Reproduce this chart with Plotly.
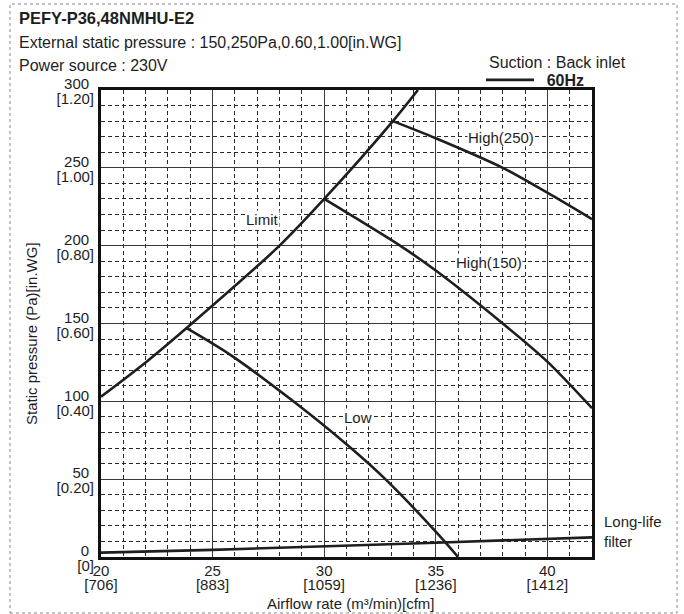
import plotly.graph_objects as go

# Fan performance data (airflow in m3/min, static pressure in Pa)
limit_airflow = [20, 22, 24.07, 28, 30, 33.08, 34.2]
limit_pressure = [103, 125, 150, 200, 230, 280, 300]

high250_airflow = [33.08, 35, 38, 40, 42]
high250_pressure = [280, 269, 250, 234, 217]

high150_airflow = [30, 33.4, 35, 38, 40, 42]
high150_pressure = [230, 200, 184, 150, 125.5, 95.6]

low_airflow = [23.84, 25.78, 28.62, 31.17, 32.74, 35, 36]
low_pressure = [147, 130, 100, 70.3, 50, 16.3, 0]

filter_airflow = [20, 25, 35, 42]
filter_pressure = [2.8, 4.6, 9.2, 12.6]

# Axis ticks: SI value with imperial equivalent underneath
x_ticks = [20, 25, 30, 35, 40]
x_ticktext_si = ["20", "25", "30", "35", "40"]
x_ticktext_imp = ["[706]", "[883]", "[1059]", "[1236]", "[1412]"]
y_ticks = [0, 50, 100, 150, 200, 250, 300]
y_ticktext_si = ["0", "50", "100", "150", "200", "250", "300"]
y_ticktext_imp = ["[0]", "[0.20]", "[0.40]", "[0.60]", "[0.80]", "[1.00]", "[1.20]"]

# Curve labels: (text, airflow, pressure)
curve_labels = [
    ("Limit", 27.24, 216.5),
    ("High(250)", 37.91, 269.8),
    ("High(150)", 37.40, 188.9),
    ("Low", 31.52, 89.9),
]

FONT = "Liberation Sans, Arial, Helvetica, sans-serif"
INK = "#1e1e1e"
LINE_W = 2.6

fig = go.Figure()

curves = [
    (limit_airflow, limit_pressure),
    (high250_airflow, high250_pressure),
    (high150_airflow, high150_pressure),
    (low_airflow, low_pressure),
    (filter_airflow, filter_pressure),
]
for i, (xs, ys) in enumerate(curves):
    fig.add_trace(go.Scatter(
        x=xs, y=ys, mode="lines",
        line=dict(color=INK, width=LINE_W, shape="spline", smoothing=0.8),
        name="\u00a0\u2009<b>60Hz</b>", showlegend=(i == 0), hoverinfo="skip",
    ))

# Empty trace that carries the secondary (imperial) tick axes
fig.add_trace(go.Scatter(x=[], y=[], xaxis="x2", yaxis="y2", showlegend=False,
                         hoverinfo="skip"))

for text, xv, yv in curve_labels:
    fig.add_annotation(x=xv, y=yv, xref="x", yref="y", text=text, showarrow=False,
                       font=dict(family=FONT, size=15, color=INK),
                       bgcolor="white", borderpad=0)

# Filter label sits outside the plot on the right
fig.add_annotation(x=1.02, y=16.7, xref="paper", yref="y", text="Long-life<br>filter",
                   showarrow=False, xanchor="left", align="left",
                   font=dict(family=FONT, size=15, color=INK))

# Plot area in pixels
L, R, T, B = 101, 592, 90, 557
PW, PH = R - L, B - T


def px(x):
    return (x - L) / PW


def py(y):
    return (B - y) / PH


header = [
    ("<b>PEFY-P36,48NMHU-E2</b>", 18, 16.5),
    ("External static pressure : 150,250Pa,0.60,1.00[in.WG]", 43, 16),
    ("Power source : 230V", 65, 16),
]
for text, yy, size in header:
    fig.add_annotation(x=px(17), y=py(yy), xref="paper", yref="paper", text=text,
                       showarrow=False, xanchor="left", yanchor="middle",
                       font=dict(family=FONT, size=size, color=INK))

fig.add_annotation(x=px(487), y=py(62), xref="paper", yref="paper",
                   text="Suction : Back inlet", showarrow=False,
                   xanchor="left", yanchor="middle",
                   font=dict(family=FONT, size=16, color=INK))

# Axis titles
fig.add_annotation(x=px(351), y=py(603), xref="paper", yref="paper",
                   text="Airflow rate (m³/min)[cfm]", showarrow=False,
                   xanchor="center", yanchor="middle",
                   font=dict(family=FONT, size=15, color=INK))
fig.add_annotation(x=px(31), y=py(334), xref="paper", yref="paper",
                   text="Static pressure (Pa)[in.WG]", showarrow=False, textangle=-90,
                   xanchor="center", yanchor="middle",
                   font=dict(family=FONT, size=15, color=INK))

# Dotted frame around the whole sheet
fig.add_shape(type="rect", xref="paper", yref="paper",
              x0=px(10), x1=px(677), y0=py(613), y1=py(4),
              line=dict(color="#8a8a8a", width=1, dash="dot"), layer="below")

grid_major = dict(color="#3a3a3a", width=1.4)
grid_minor = dict(color="#2a2a2a", width=1)
tick_font = dict(family=FONT, size=15, color=INK)

fig.update_layout(
    xaxis=dict(
        range=[20, 42], tickvals=x_ticks, ticktext=x_ticktext_si, ticks="",
        showgrid=True, gridcolor=grid_major["color"], gridwidth=grid_major["width"],
        minor=dict(dtick=1, tick0=20, showgrid=True, gridcolor=grid_minor["color"],
                   gridwidth=grid_minor["width"], griddash="4px,3px"),
        showline=True, linecolor="#111", linewidth=2.8, mirror=True,
        zeroline=False, tickfont=tick_font, ticklabelstandoff=-2, fixedrange=True,
    ),
    xaxis2=dict(
        range=[20, 42], overlaying="x", side="bottom", anchor="y2",
        tickvals=x_ticks, ticktext=x_ticktext_imp, ticks="",
        showgrid=False, showline=False, zeroline=False,
        tickfont=tick_font, ticklabelstandoff=17, fixedrange=True,
    ),
    yaxis=dict(
        range=[0, 300], tickvals=y_ticks, ticktext=y_ticktext_si, ticks="",
        showgrid=True, gridcolor=grid_major["color"], gridwidth=grid_major["width"],
        minor=dict(dtick=10, tick0=0, showgrid=True, gridcolor=grid_minor["color"],
                   gridwidth=grid_minor["width"], griddash="4px,3px"),
        showline=True, linecolor="#111", linewidth=2.8, mirror=True,
        zeroline=False, tickfont=tick_font, ticklabelstandoff=6,
        ticklabelshift=-6, fixedrange=True,
    ),
    yaxis2=dict(
        range=[0, 300], overlaying="y", side="left", anchor="x2",
        tickvals=y_ticks, ticktext=y_ticktext_imp, ticks="",
        showgrid=False, showline=False, zeroline=False,
        tickfont=tick_font, ticklabelstandoff=6, ticklabelshift=9, fixedrange=True,
    ),
    width=684, height=614,
    margin=dict(l=L, r=684 - R, t=T, b=614 - B),
    plot_bgcolor="white", paper_bgcolor="white",
    font=dict(family=FONT, size=15, color=INK),
    showlegend=True,
    legend=dict(
        x=px(481), y=py(80), xanchor="left", yanchor="middle",
        font=dict(family=FONT, size=16, color=INK),
        bgcolor="rgba(0,0,0,0)", borderwidth=0, tracegroupgap=0, itemwidth=48,
    ),
)

fig.write_html("out.html")
